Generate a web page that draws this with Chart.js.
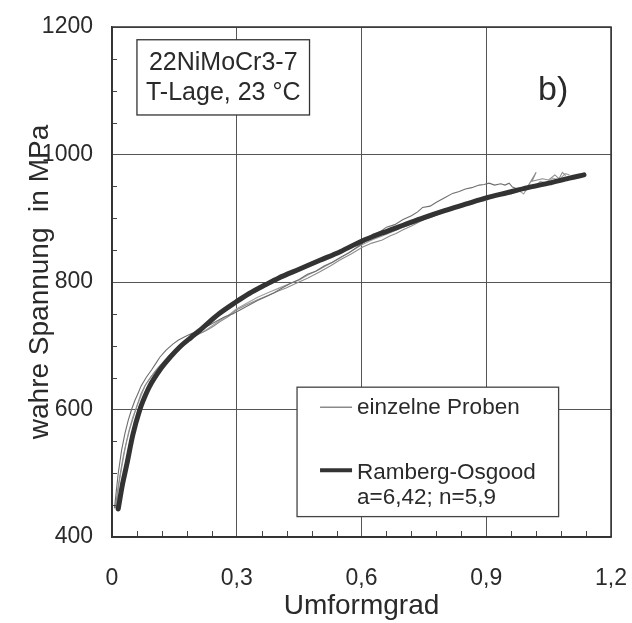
<!DOCTYPE html>
<html>
<head>
<meta charset="utf-8">
<script src="https://cdn.jsdelivr.net/npm/chart.js@4/dist/chart.umd.min.js"></script>
<style>
html,body{margin:0;padding:0;background:#fff;}
#wrap{width:632px;height:623px;position:relative;}
</style>
</head>
<body>
<div id="wrap"><canvas id="c" width="632" height="623"></canvas></div>
<script>
// ---- data ----
const xTickValues = [0, 0.3, 0.6, 0.9, 1.2];
const yTickValues = [400, 600, 800, 1000, 1200];
const xTitle = "Umformgrad";
const yTitle = "wahre Spannung  in MPa";
const boxLines = ["22NiMoCr3-7", "T-Lage, 23 °C"];
const panelLabel = "b)";
const legendThin = "einzelne Proben";
const legendThick = ["Ramberg-Osgood", "a=6,42; n=5,9"];

const roStrain = [0.015,0.025,0.035,0.05,0.067,0.075,0.09,0.115,0.14,0.163,0.19,0.211,0.235,0.259,0.299,0.33,0.37,0.40,0.45,0.50,0.55,0.60,0.65,0.70,0.75,0.80,0.85,0.90,0.95,1.00,1.05,1.10,1.135];
const roStress = [444,482,512,560,600,614,636,662,682,698,713,724,738,751,769,782,796,806,820,834,848,864,877,889,901,912,922,932,940,948,955,963,968];

const s1Strain = [0.006,0.010,0.015,0.023,0.031,0.039,0.047,0.055,0.063,0.070,0.083,0.095,0.105,0.115,0.13,0.147,0.16,0.175,0.19,0.21,0.23,0.25,0.27,0.29,0.31,0.33,0.35,0.37,0.39,0.41,0.43,0.45,0.47,0.49,0.51,0.53,0.55,0.57,0.59,0.61,0.627,0.645,0.66,0.68,0.70,0.72,0.735,0.747,0.765,0.78,0.80,0.819,0.835,0.85,0.865,0.883,0.895,0.907,0.92,0.935,0.945,0.955,0.963,0.975];
const s1Stress = [445,470,500,536,562,583,600,614,626,637,651,662,672,682,693,703,709,714,719,724,731,738,745,750,757,764,771,777,783,791,798,804,812,817,825,831,839,846,855,864,875,879,886,890,898,904,910,917,919,925,932,939,942,946,948,952,953,955,952,954,952,955,949,946];

const s2Strain = [0.008,0.014,0.02,0.028,0.035,0.043,0.05,0.06,0.07,0.08,0.09,0.105,0.12,0.135,0.15,0.171,0.19,0.21,0.227,0.245,0.26,0.28,0.299,0.32,0.35,0.375,0.40,0.42,0.443,0.47,0.50,0.525,0.547,0.575,0.603,0.625,0.65,0.668,0.683,0.70,0.72,0.747,0.77,0.80,0.825,0.85,0.875,0.90,0.92,0.94,0.96,0.98,0.995,1.0,1.02,1.01,1.035,1.05,1.065,1.075,1.083,1.091];
const s2Stress = [445,475,500,530,550,570,585,606,625,638,648,661,672,683,692,706,713,719,724,731,738,746,756,763,772,779,786,791,798,806,816,825,834,844,855,861,866,872,876,882,888,897,902,911,916,921,926,930,935,940,938,945,943,950,972,958,962,960,968,962,972,967];

const s3Strain = [0.01,0.017,0.025,0.032,0.04,0.05,0.06,0.07,0.08,0.095,0.11,0.125,0.14,0.16,0.18,0.20,0.22,0.24,0.26,0.28,0.30,0.325,0.35,0.375,0.40,0.425,0.45,0.475,0.50,0.525,0.55,0.575,0.60,0.625,0.65,0.675,0.70,0.725,0.75,0.775,0.80,0.825,0.85,0.875,0.90,0.915,0.93,0.945,0.96,0.975,0.99,1.0,1.015,1.03,1.045,1.06,1.075,1.09,1.10];
const s3Stress = [445,485,515,540,565,588,605,622,638,652,665,676,686,698,708,716,722,731,740,748,758,767,776,783,790,797,803,812,820,829,838,848,858,866,872,879,886,892,898,904,910,915,920,925,928,933,936,940,942,945,938,950,948,958,955,963,960,970,968];

// ---- build ----
const pts = (xs, ys) => xs.map((x, i) => ({x: x, y: ys[i]}));
const FONT = '"Liberation Sans", Arial, Helvetica, sans-serif';
const TXT = '#2a2a2a';
const thinStyle = (c) => ({borderColor: c, borderWidth: 1.1, pointRadius: 0, tension: 0, fill: false, order: 1});

const minorTicks = {
  id: 'minorTicks',
  afterDraw(chart) {
    const ctx = chart.ctx, xs = chart.scales.x, ys = chart.scales.y, a = chart.chartArea;
    ctx.save();
    ctx.strokeStyle = '#444';
    ctx.lineWidth = 1;
    for (let i = 1; i < 20; i++) {
      if (i % 5 === 0) continue;
      const px = Math.round(xs.getPixelForValue(i * 0.06)) + 0.5;
      ctx.beginPath(); ctx.moveTo(px, a.bottom); ctx.lineTo(px, a.bottom - 6); ctx.stroke();
    }
    for (let v = 450; v < 1200; v += 50) {
      if (v % 200 === 0) continue;
      const py = Math.round(ys.getPixelForValue(v)) + 0.5;
      ctx.beginPath(); ctx.moveTo(a.left, py); ctx.lineTo(a.left + 5, py); ctx.stroke();
    }
    // frame
    ctx.strokeStyle = '#333';
    ctx.lineWidth = 1.5;
    ctx.strokeRect(a.left, a.top, a.right - a.left, a.bottom - a.top);

    // annotation box (top-left)
    const bx0 = xs.getPixelForValue(0.06), bx1 = xs.getPixelForValue(0.475);
    const by0 = ys.getPixelForValue(1180), by1 = ys.getPixelForValue(1062);
    ctx.fillStyle = '#fff';
    ctx.fillRect(bx0, by0, bx1 - bx0, by1 - by0);
    ctx.strokeStyle = '#333'; ctx.lineWidth = 1.3;
    ctx.strokeRect(bx0, by0, bx1 - bx0, by1 - by0);
    ctx.fillStyle = TXT;
    ctx.font = '25px ' + FONT;
    ctx.textAlign = 'center'; ctx.textBaseline = 'middle';
    const cx = (bx0 + bx1) / 2;
    ctx.fillText(boxLines[0], cx, by0 + 23);
    ctx.fillText(boxLines[1], cx, by0 + 53);

    // panel label
    ctx.font = '34px ' + FONT;
    ctx.fillText(panelLabel, xs.getPixelForValue(1.061), ys.getPixelForValue(1100));

    // legend box
    const lx0 = xs.getPixelForValue(0.445), lx1 = xs.getPixelForValue(1.074);
    const ly0 = ys.getPixelForValue(635), ly1 = ys.getPixelForValue(432);
    ctx.fillStyle = '#fff';
    ctx.fillRect(lx0, ly0, lx1 - lx0, ly1 - ly0);
    ctx.strokeStyle = '#444'; ctx.lineWidth = 1.3;
    ctx.strokeRect(lx0, ly0, lx1 - lx0, ly1 - ly0);
    const sx0 = lx0 + 23, sx1 = lx0 + 55;
    ctx.strokeStyle = '#8a8a8a'; ctx.lineWidth = 1.5;
    ctx.beginPath(); ctx.moveTo(sx0, ly0 + 20); ctx.lineTo(sx1, ly0 + 20); ctx.stroke();
    ctx.strokeStyle = '#333'; ctx.lineWidth = 4;
    ctx.beginPath(); ctx.moveTo(sx0, ly0 + 83); ctx.lineTo(sx1, ly0 + 83); ctx.stroke();
    ctx.fillStyle = TXT;
    ctx.font = '22.5px ' + FONT;
    ctx.textAlign = 'left';
    ctx.fillText(legendThin, sx1 + 5, ly0 + 21);
    ctx.fillText(legendThick[0], sx1 + 5, ly0 + 86);
    ctx.fillText(legendThick[1], sx1 + 5, ly0 + 111);
    ctx.restore();
  }
};

new Chart(document.getElementById('c'), {
  type: 'line',
  data: {
    datasets: [
      Object.assign({label: 'Probe 1', data: pts(s1Strain, s1Stress)}, thinStyle('#6e6e6e')),
      Object.assign({label: 'Probe 2', data: pts(s2Strain, s2Stress)}, thinStyle('#8c8c8c')),
      Object.assign({label: 'Probe 3', data: pts(s3Strain, s3Stress)}, thinStyle('#a0a0a0')),
      {label: 'Ramberg-Osgood', data: pts(roStrain, roStress), borderColor: '#333', borderWidth: 5,
       pointRadius: 0, cubicInterpolationMode: 'monotone', fill: false, order: 0, borderCapStyle: 'round'}
    ]
  },
  options: {
    responsive: false,
    animation: false,
    events: [],
    layout: {padding: {left: 0, top: 27, right: 21, bottom: 0}},
    plugins: {legend: {display: false}, tooltip: {enabled: false}},
    scales: {
      x: {
        type: 'linear', min: 0, max: 1.2,
        afterBuildTicks: (s) => { s.ticks = xTickValues.map(v => ({value: v})); },
        afterFit: (s) => { s.height = 86; s.paddingLeft = 0; s.paddingRight = 0; },
        grid: {color: '#555', lineWidth: 1, drawTicks: false},
        border: {display: true, color: '#333', width: 1.5},
        ticks: {padding: 28, color: TXT, font: {family: FONT, size: 23},
          callback: (v) => v === 0 ? '0' : (Math.round(v * 10) / 10).toFixed(1).replace('.', ',')},
        title: {display: true, text: xTitle, color: TXT, font: {family: FONT, size: 28}, padding: {top: 0, bottom: 0}}
      },
      y: {
        type: 'linear', min: 400, max: 1200,
        afterBuildTicks: (s) => { s.ticks = yTickValues.map(v => ({value: v})); },
        afterFit: (s) => { s.width = 112; s.paddingTop = 0; s.paddingBottom = 0; },
        grid: {color: '#555', lineWidth: 1, drawTicks: false},
        border: {display: true, color: '#333', width: 1.5},
        ticks: {padding: 19, color: TXT, font: {family: FONT, size: 23}, callback: (v) => String(v)},
        title: {display: true, text: yTitle, color: TXT, font: {family: FONT, size: 28}, padding: {top: 23, bottom: 0}}
      }
    }
  },
  plugins: [minorTicks]
});
</script>
</body>
</html>
